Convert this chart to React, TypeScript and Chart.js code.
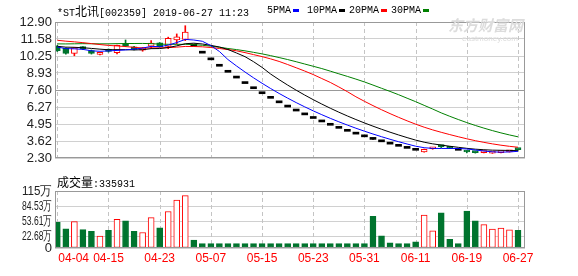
import React, { useEffect, useRef } from 'react';
import { Chart, registerables } from 'chart.js';

Chart.register(...registerables);

// ---- data ----
const dates = [
  '04-04', '04-08', '04-09', '04-10', '04-11', '04-12', '04-15', '04-16', '04-17', '04-18',
  '04-19', '04-22', '04-23', '04-24', '04-25', '04-26', '04-30', '05-06', '05-07', '05-08',
  '05-09', '05-10', '05-13', '05-14', '05-15', '05-16', '05-17', '05-20', '05-21', '05-22',
  '05-23', '05-24', '05-27', '05-28', '05-29', '05-30', '05-31', '06-03', '06-04', '06-05',
  '06-06', '06-10', '06-11', '06-12', '06-13', '06-14', '06-17', '06-18', '06-19', '06-20',
  '06-21', '06-24', '06-25', '06-26', '06-27',
];

const opens = [
  11.01, 10.84, 10.45, 10.92, 10.67, 10.38, 10.77, 10.50, 11.21, 10.96,
  10.70, 11.01, 11.28, 10.99, 11.50, 11.55, 11.02, 10.47, 9.95, 9.45,
  8.98, 8.53, 8.10, 7.70, 7.31, 6.95, 6.60, 6.27, 5.96, 5.66,
  5.38, 5.11, 4.85, 4.61, 4.38, 4.16, 3.95, 3.75, 3.56, 3.38,
  3.21, 3.05, 2.90, 2.78, 3.02, 3.27, 3.12, 2.90, 2.80, 2.76,
  2.72, 2.68, 2.72, 2.78, 3.00,
];
const highs = [
  11.08, 10.88, 10.92, 10.98, 10.72, 10.50, 10.80, 11.10, 11.50, 11.00,
  10.92, 11.45, 11.30, 11.72, 11.97, 12.61, 11.02, 10.47, 9.95, 9.45,
  8.98, 8.53, 8.10, 7.70, 7.31, 6.95, 6.60, 6.27, 5.96, 5.66,
  5.38, 5.11, 4.85, 4.61, 4.38, 4.16, 3.95, 3.86, 3.56, 3.38,
  3.21, 3.05, 2.90, 2.99, 3.12, 3.27, 3.14, 2.90, 2.87, 2.78,
  2.80, 2.75, 2.80, 2.88, 3.00,
];
const lows = [
  10.60, 10.40, 10.27, 10.75, 10.40, 10.33, 10.55, 10.42, 10.98, 10.72,
  10.62, 10.85, 10.93, 10.82, 11.19, 11.45, 11.02, 10.47, 9.95, 9.45,
  8.98, 8.53, 8.10, 7.70, 7.31, 6.95, 6.60, 6.27, 5.96, 5.66,
  5.38, 5.11, 4.85, 4.61, 4.38, 4.16, 3.95, 3.75, 3.56, 3.38,
  3.21, 3.05, 2.90, 2.76, 2.98, 3.11, 3.03, 2.90, 2.70, 2.68,
  2.70, 2.66, 2.70, 2.76, 2.92,
];
const closes = [
  10.67, 10.45, 10.89, 10.82, 10.45, 10.47, 10.60, 11.08, 11.01, 10.77,
  10.88, 11.26, 10.96, 11.63, 11.75, 12.12, 11.02, 10.47, 9.95, 9.45,
  8.98, 8.53, 8.10, 7.70, 7.31, 6.95, 6.60, 6.27, 5.96, 5.66,
  5.38, 5.11, 4.85, 4.61, 4.38, 4.16, 3.95, 3.75, 3.56, 3.38,
  3.21, 3.05, 2.90, 2.97, 3.11, 3.19, 3.05, 2.90, 2.77, 2.72,
  2.78, 2.73, 2.78, 2.86, 2.95,
];
// closes of the 29 sessions before 04-04 (needed for the moving averages)
const priorCloses = [
  10.52, 10.60, 10.48, 10.65, 10.70, 10.58, 10.62, 10.75, 10.68, 10.72,
  11.80, 11.95, 12.10, 11.88, 12.02, 11.92, 11.85, 12.05, 11.90, 11.96,
  11.10, 11.02, 11.15, 10.98, 11.05, 11.08, 10.96, 11.04, 11.00,
];
// volume in 万 (10k shares)
const volumes = [
  51.9, 38.9, 53.1, 37.2, 33.6, 24.2, 35.4, 57.8, 54.8, 33.6,
  31.3, 61.3, 40.7, 73.7, 96.7, 105.6, 15.9, 8.8, 8.8, 8.7,
  8.8, 8.8, 8.7, 8.8, 8.8, 8.8, 8.7, 8.8, 8.8, 8.8,
  8.8, 8.7, 8.8, 8.8, 8.8, 8.8, 8.8, 63.7, 24.8, 10.6,
  8.8, 8.8, 12.4, 66.6, 34.8, 70.8, 17.7, 8.8, 74.3, 54.8,
  47.2, 38.3, 40.1, 36.6, 35.4,
];

const priceTicks = [2.30, 3.62, 4.95, 6.27, 7.60, 8.93, 10.25, 11.58, 12.90];
const volumeTicks = [0, 22.68, 53.61, 84.53, 115];
const volumeTickLabels = ['0', '22.68万', '53.61万', '84.53万', '115万'];
const dateTickIndex = [0, 6, 12, 18, 24, 30, 36, 42, 48, 54];
const maPeriods = [5, 10, 20, 30];
const maLabels = ['5PMA', '10PMA', '20PMA', '30PMA'];
const maColors = ['#0000ff', '#000000', '#ff0000', '#008000'];
const stockTitle = '[002359] 2019-06-27 11:23';
const stockName = '北讯';
const volumeTitle = '成交量';
const volumeNow = ':335931';

const UP = '#ff0000';
const DOWN = '#00742e';
const FLAT = '#000000';

function movingAverage(period: number) {
  const all = priorCloses.concat(closes);
  return closes.map((_, i) => {
    const end = priorCloses.length + i + 1;
    let s = 0;
    for (let k = end - period; k < end; k++) s += all[k];
    return s / period;
  });
}

function candleColor(i: number) {
  if (closes[i] > opens[i]) return UP;
  if (closes[i] < opens[i]) return DOWN;
  return FLAT;
}

const X_MIN = -0.27;
const X_MAX = 54.82;

function xScale() {
  return {
    type: 'linear',
    min: X_MIN,
    max: X_MAX,
    offset: false,
    afterBuildTicks: (s: any) => {
      s.ticks = dateTickIndex.map((v) => ({ value: v }));
    },
    ticks: { display: false, autoSkip: false },
    grid: { display: false },
    border: { display: false },
  };
}

// dashed vertical grid lines at the date ticks of the x scale
const dashedGridPlugin = {
  id: 'dashedGrid',
  beforeDatasetsDraw(chart: any) {
    const { ctx, chartArea: a } = chart;
    const xs = chart.scales.x;
    ctx.save();
    ctx.strokeStyle = '#c4c4c4';
    ctx.lineWidth = 1;
    ctx.setLineDash([4, 3]);
    xs.ticks.forEach((t: any) => {
      const x = Math.round(xs.getPixelForValue(t.value)) + 0.5;
      ctx.beginPath();
      ctx.moveTo(x, a.top);
      ctx.lineTo(x, a.bottom);
      ctx.stroke();
    });
    ctx.restore();
  },
};

const framePlugin = {
  id: 'frame',
  afterDraw(chart: any) {
    const { ctx, chartArea: a } = chart;
    ctx.save();
    ctx.strokeStyle = '#999999';
    ctx.lineWidth = 1;
    ctx.strokeRect(
      Math.round(a.left) + 0.5,
      Math.round(a.top) + 0.5,
      Math.round(a.right - a.left) - 1,
      Math.round(a.bottom - a.top) - 1
    );
    ctx.restore();
  },
};

const volumeLabelsPlugin = {
  id: 'volLabels',
  afterDraw(chart: any) {
    const { ctx, chartArea: a } = chart;
    const ys = chart.scales.y;
    const xs = chart.scales.x;
    ctx.save();
    ctx.font = '13px "Liberation Sans", Arial, sans-serif';
    ctx.fillStyle = '#222222';
    ctx.textAlign = 'right';
    ctx.textBaseline = 'middle';
    volumeTicks.forEach((v, i) => {
      ctx.fillText(volumeTickLabels[i], a.left - 3, ys.getPixelForValue(v), 30);
    });
    ctx.font = '12px "Liberation Sans", Arial, sans-serif';
    ctx.fillStyle = '#ff0000';
    dateTickIndex.forEach((idx, k) => {
      const x = xs.getPixelForValue(idx);
      ctx.textAlign = k === 0 ? 'left' : 'center';
      ctx.fillText(dates[idx], k === 0 ? x + 1 : x, a.bottom + 11);
    });
    ctx.restore();
  },
};

export default function App() {
  const priceRef = useRef<HTMLCanvasElement>(null);
  const volRef = useRef<HTMLCanvasElement>(null);

  useEffect(() => {
    Chart.defaults.font.family = '"Liberation Sans", Arial, sans-serif';

    const maSets = maPeriods.map((p, k) => ({
      type: 'line',
      label: maLabels[k],
      data: movingAverage(p).map((v, i) => ({ x: i, y: v })),
      borderColor: maColors[k],
      borderWidth: 1,
      pointRadius: 0,
      tension: 0,
      fill: false,
      order: 0,
    }));

    const bodySet = {
      type: 'bar',
      label: 'body',
      data: closes.map((c, i) => ({ x: i, y: [opens[i], c] })),
      backgroundColor: (ctx: any) => {
        const i = ctx.raw ? ctx.raw.x : ctx.dataIndex;
        return closes[i] > opens[i] ? '#ffffff' : candleColor(i);
      },
      borderColor: (ctx: any) => candleColor(ctx.raw ? ctx.raw.x : ctx.dataIndex),
      borderWidth: (ctx: any) => {
        const i = ctx.raw ? ctx.raw.x : ctx.dataIndex;
        return closes[i] === opens[i] ? 0 : 1;
      },
      borderSkipped: false,
      barThickness: 6,
      minBarLength: 2,
      grouped: false,
      order: 1,
    };

    const wickSet = {
      type: 'bar',
      label: 'wick',
      data: closes
        .map((_, i) => ({ x: i, y: [lows[i], highs[i]] }))
        .filter((d) => d.y[1] > d.y[0]),
      backgroundColor: (ctx: any) => candleColor(ctx.raw ? ctx.raw.x : ctx.dataIndex),
      borderWidth: 0,
      barThickness: 1,
      grouped: false,
      order: 2,
    };

    const price = new Chart(priceRef.current as HTMLCanvasElement, {
      type: 'bar',
      data: { datasets: [...maSets, bodySet, wickSet] as any },
      options: {
        responsive: false,
        animation: false,
        events: [],
        layout: { padding: { left: 0, right: 53, top: 22, bottom: 10 } },
        plugins: { legend: { display: false }, tooltip: { enabled: false } },
        scales: {
          x: xScale() as any,
          y: {
            type: 'linear',
            min: 2.3,
            max: 12.9,
            afterBuildTicks: (s: any) => {
              s.ticks = priceTicks.map((v) => ({ value: v }));
            },
            afterFit: (s: any) => {
              s.width = 55;
            },
            ticks: {
              autoSkip: false,
              callback: (v: any) => Number(v).toFixed(2),
              font: { size: 13, family: '"Liberation Sans", Arial, sans-serif' },
              color: '#222222',
              padding: 3,
            },
            grid: {
              color: (ctx: any) => (ctx.tick && Math.abs(ctx.tick.value - 7.6) < 0.001 ? '#999999' : '#d0d0d0'),
              drawTicks: false,
            },
            border: { display: false },
          },
        },
      } as any,
      plugins: [dashedGridPlugin, framePlugin],
    });

    const vol = new Chart(volRef.current as HTMLCanvasElement, {
      type: 'bar',
      data: {
        datasets: [
          {
            label: 'volume',
            data: volumes.map((v, i) => ({ x: i, y: v })),
            backgroundColor: (ctx: any) => {
              const i = ctx.raw ? ctx.raw.x : ctx.dataIndex;
              return closes[i] > opens[i] ? '#ffffff' : DOWN;
            },
            borderColor: (ctx: any) => {
              const i = ctx.raw ? ctx.raw.x : ctx.dataIndex;
              return closes[i] > opens[i] ? UP : DOWN;
            },
            borderWidth: 1,
            borderSkipped: false,
            barThickness: 6,
            grouped: false,
          },
        ] as any,
      },
      options: {
        responsive: false,
        animation: false,
        events: [],
        layout: { padding: { left: 0, right: 53, top: 15, bottom: 20 } },
        plugins: { legend: { display: false }, tooltip: { enabled: false } },
        scales: {
          x: xScale() as any,
          y: {
            type: 'linear',
            min: 0,
            max: 115,
            afterBuildTicks: (s: any) => {
              s.ticks = volumeTicks.map((v) => ({ value: v }));
            },
            afterFit: (s: any) => {
              s.width = 55;
            },
            ticks: { display: false },
            grid: { color: '#d0d0d0', drawTicks: false },
            border: { display: false },
          },
        },
      } as any,
      plugins: [dashedGridPlugin, framePlugin, volumeLabelsPlugin],
    });

    return () => {
      price.destroy();
      vol.destroy();
    };
  }, []);

  const mono = '"Liberation Mono", "DejaVu Sans Mono", monospace';
  const cjk = '"Noto Sans CJK SC", sans-serif';

  return (
    <div
      style={{
        position: 'fixed',
        left: 0,
        top: 0,
        width: 578,
        height: 276,
        background: '#ffffff',
        overflow: 'hidden',
      }}
    >
      <canvas ref={priceRef} width={578} height={176} style={{ position: 'absolute', left: 0, top: 0, display: 'block' }} />
      <canvas ref={volRef} width={578} height={100} style={{ position: 'absolute', left: 0, top: 176, display: 'block' }} />

      <div
        style={{
          position: 'absolute',
          left: 57,
          top: 3,
          fontFamily: mono,
          fontSize: 10,
          lineHeight: '15px',
          whiteSpace: 'pre',
          color: '#000',
        }}
      >
        *ST<span style={{ fontFamily: cjk, fontSize: 12 }}>{stockName}</span>
        {stockTitle}
      </div>

      <div
        style={{
          position: 'absolute',
          left: 267,
          top: 3,
          fontFamily: mono,
          fontSize: 10,
          lineHeight: '15px',
          whiteSpace: 'pre',
          color: '#000',
          display: 'flex',
          alignItems: 'center',
        }}
      >
        {maLabels.map((l, k) => (
          <span key={l} style={{ display: 'inline-flex', alignItems: 'center', marginRight: k === 0 ? 8 : 4 }}>
            {l}
            <span
              style={{
                display: 'inline-block',
                width: 6,
                height: 3,
                marginLeft: 2,
                background: maColors[k],
              }}
            />
          </span>
        ))}
      </div>

      <div
        style={{
          position: 'absolute',
          left: 448,
          top: 16,
          fontFamily: cjk,
          fontSize: 15,
          fontWeight: 700,
          fontStyle: 'italic',
          color: '#dcdcdc',
          lineHeight: '18px',
          whiteSpace: 'pre',
        }}
      >
        东方财富网
      </div>
      <div
        style={{
          position: 'absolute',
          left: 462,
          top: 34,
          fontFamily: '"Liberation Sans", sans-serif',
          fontSize: 8,
          color: '#dcdcdc',
          lineHeight: '10px',
          whiteSpace: 'pre',
        }}
      >
        eastmoney.com
      </div>

      <div
        style={{
          position: 'absolute',
          left: 57,
          top: 174,
          fontFamily: mono,
          fontSize: 10,
          lineHeight: '15px',
          whiteSpace: 'pre',
          color: '#000',
        }}
      >
        <span style={{ fontFamily: cjk, fontSize: 12 }}>{volumeTitle}</span>
        {volumeNow}
      </div>
    </div>
  );
}
